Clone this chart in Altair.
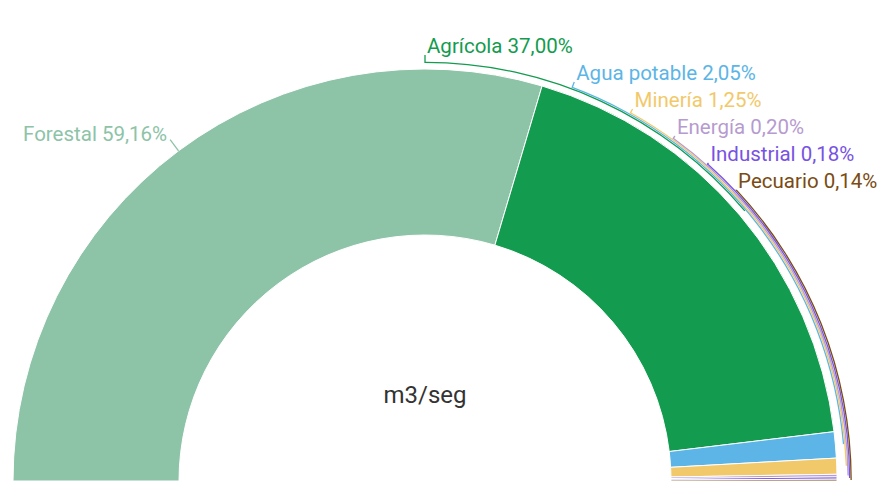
import math
import altair as alt
import pandas as pd

# ---- data ----
categories = ["Forestal", "Agrícola", "Agua potable", "Minería", "Energía", "Industrial", "Pecuario"]
shares = [59.16, 37.00, 2.05, 1.25, 0.20, 0.18, 0.14]
colors = ["#8dc3a7", "#139b4f", "#5cb5e6", "#f2c96a", "#b69bd0", "#7753e3", "#7a4b12"]
center_label = "m3/seg"

# ---- layout / style ----
CX, CY = 417, 473          # arc centre inside the plot area
R_OUT, R_IN = 412, 246     # donut radii
R_LAB = 426                # radius at which labels attach
LINE_STEP = 27             # vertical spacing of right-hand labels
FONT = "Roboto"
FS = 20.5

total = sum(shares)
theta_scale = alt.Scale(domain=[0, total], range=[-math.pi / 2, math.pi / 2])
color_scale = alt.Scale(domain=categories, range=colors)


def to_angle(v):
    return v / total * math.pi - math.pi / 2


def to_value(a):
    return (a + math.pi / 2) / math.pi * total


def pt(r, a):
    return CX + r * math.sin(a), CY - r * math.cos(a)


def fmt(v):
    return f"{v:.2f}".replace(".", ",") + "%"


slices = pd.DataFrame({"cat": categories, "share": shares, "idx": list(range(len(categories)))})

cum = 0.0
mids = []
for s in shares:
    mids.append(to_angle(cum + s / 2))
    cum += s

conn_rows, tick_rows, right_rows, left_rows = [], [], [], []

# left label (first category)
a = mids[0]
x0, y0 = pt(R_OUT, a)
x1, y1 = pt(R_LAB, a)
tick_rows.append({"cat": categories[0], "x": x0, "y": y0, "x2": x1, "y2": y1})
left_rows.append({"cat": categories[0], "x": x1 - 3, "y": y1 + 1, "label": f"{categories[0]} {fmt(shares[0])}"})

# right labels
for k, i in enumerate(range(1, len(categories))):
    ya = CY - R_LAB + LINE_STEP * k
    dy = CY - ya
    dx = math.sqrt(max(R_LAB ** 2 - dy ** 2, 0))
    a_lab = math.atan2(dx, dy)
    rc = R_OUT + 6 + 1.5 * k
    conn_rows.append({"cat": categories[i], "t0": to_value(a_lab), "t1": to_value(mids[i]),
                      "r0": rc + 1.3, "r1": rc})
    xa, yb = pt(rc, a_lab)
    xb, yc = pt(R_LAB, a_lab)
    tick_rows.append({"cat": categories[i], "x": xa, "y": yb, "x2": xb, "y2": yc})
    right_rows.append({"cat": categories[i], "x": xb + 2, "y": yc - 2,
                       "label": f"{categories[i]} {fmt(shares[i])}"})

conn = pd.DataFrame(conn_rows)
ticks = pd.DataFrame(tick_rows)
right = pd.DataFrame(right_rows)
left = pd.DataFrame(left_rows)
center = pd.DataFrame({"label": [center_label]})

col = alt.Color("cat:N", scale=color_scale, legend=None)

donut = alt.Chart(slices).mark_arc(innerRadius=R_IN, outerRadius=R_OUT, stroke="white", strokeWidth=1).encode(
    theta=alt.Theta("share:Q", stack=True, scale=theta_scale),
    order=alt.Order("idx:Q"),
    color=col,
    x=alt.value(CX), y=alt.value(CY),
)

connectors = alt.Chart(conn).mark_arc().encode(
    theta=alt.Theta("t0:Q", stack=False, scale=theta_scale),
    theta2="t1:Q",
    radius=alt.Radius("r0:Q", scale=None),
    radius2="r1:Q",
    color=col,
    x=alt.value(CX), y=alt.value(CY),
)

tick_layer = alt.Chart(ticks).mark_rule(strokeWidth=1.3).encode(
    x=alt.X("x:Q", scale=None, axis=None), y=alt.Y("y:Q", scale=None, axis=None),
    x2="x2:Q", y2="y2:Q", color=col,
)

right_text = alt.Chart(right).mark_text(align="left", baseline="alphabetic", font=FONT, fontSize=FS).encode(
    x=alt.X("x:Q", scale=None, axis=None), y=alt.Y("y:Q", scale=None, axis=None),
    text="label:N", color=col,
)

left_text = alt.Chart(left).mark_text(align="right", baseline="alphabetic", font=FONT, fontSize=FS).encode(
    x=alt.X("x:Q", scale=None, axis=None), y=alt.Y("y:Q", scale=None, axis=None),
    text="label:N", color=col,
)

center_text = alt.Chart(center).mark_text(align="center", baseline="alphabetic", font=FONT,
                                          fontSize=24, color="#333333").encode(
    x=alt.value(CX), y=alt.value(395), text="label:N",
)

chart = alt.layer(donut, connectors, tick_layer, right_text, left_text, center_text).properties(
    width=870, height=490, padding=0,
    autosize=alt.AutoSizeParams(type="none"),
    background="white",
).configure_view(strokeWidth=0)

chart.save("out.html", embed_options={"renderer": "svg", "actions": False})
